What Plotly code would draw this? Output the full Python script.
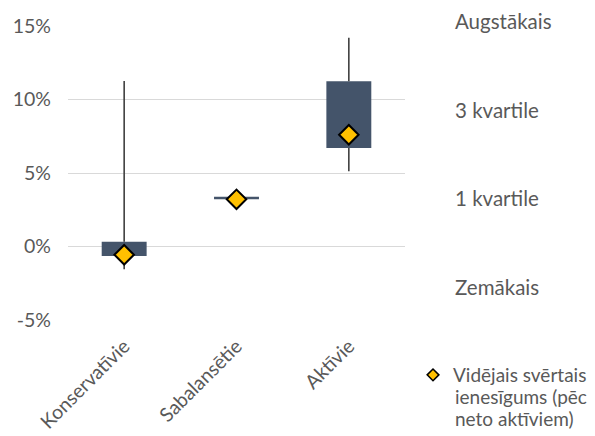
import plotly.graph_objects as go

# Fund groups and their return distribution (percent)
categories = ["Konservatīvie", "Sabalansētie", "Aktīvie"]
lowest = [-1.55, 3.20, 5.12]
quartile1 = [-0.65, 3.21, 6.70]
quartile3 = [0.33, 3.39, 11.24]
highest = [11.26, 3.40, 14.20]
weighted_mean = [-0.56, 3.21, 7.60]

# Axis ticks
y_ticks = [-5, 0, 5, 10, 15]
y_tick_text = ["-5%", "0%", "5%", "10%", "15%"]

# Side labels for the series
side_labels = ["Augstākais", "3 kvartile", "1 kvartile", "Zemākais"]
mean_label_lines = ["Vidējais svērtais", "ienesīgums (pēc", "neto aktīviem)"]

FONT = "Lato"
TEXT = "#595959"
BOX = "#44546A"
WHISKER = "#404040"
GOLD = "#FFC000"

L, R, T, B = 68, 405, 26, 320  # plot area edges in pixels


def px_x(x):
    return (x - L) / (R - L)


def px_y(y):
    return 1 - (y - T) / (B - T)


fig = go.Figure()

# Whiskers: lowest -> 1st quartile and 3rd quartile -> highest
wx, wy = [], []
for c, lo, q1, q3, hi in zip(categories, lowest, quartile1, quartile3, highest):
    wx += [c, c, None, c, c, None]
    wy += [lo, q1, None, q3, hi, None]
fig.add_trace(go.Scatter(
    x=wx, y=wy, mode="lines", line=dict(color=WHISKER, width=1.6),
    showlegend=False, hoverinfo="skip",
))

# Interquartile boxes
fig.add_trace(go.Bar(
    x=categories,
    y=[q3 - q1 for q1, q3 in zip(quartile1, quartile3)],
    base=quartile1,
    width=0.4,
    marker=dict(color=BOX, line=dict(width=0)),
    showlegend=False,
))

# Weighted mean return
fig.add_trace(go.Scatter(
    x=categories, y=weighted_mean, mode="markers",
    marker=dict(symbol="diamond", size=15, color=GOLD,
                line=dict(color="black", width=2)),
    showlegend=False,
))
# Legend entry for the mean marker (first line of its label)
fig.add_trace(go.Scatter(
    x=[None], y=[None], mode="markers", name=mean_label_lines[0],
    marker=dict(symbol="diamond", size=9, color=GOLD,
                line=dict(color="black", width=1.5)),
))

label_y = [21, 110, 198, 287]
for txt, py in zip(side_labels, label_y):
    fig.add_annotation(
        text=txt, xref="paper", yref="paper",
        x=px_x(453), y=px_y(py),
        xanchor="left", yanchor="middle", showarrow=False,
        font=dict(family=FONT, size=20.5, color=TEXT),
    )

# Remaining lines of the legend label, with tighter line spacing
for txt, py in zip(mean_label_lines[1:], [396, 418]):
    fig.add_annotation(
        text=txt, xref="paper", yref="paper",
        x=px_x(453), y=px_y(py),
        xanchor="left", yanchor="middle", showarrow=False,
        font=dict(family=FONT, size=19, color=TEXT),
    )

fig.update_layout(
    width=595, height=436,
    margin=dict(l=L, r=595 - R, t=T, b=436 - B, autoexpand=False),
    paper_bgcolor="white", plot_bgcolor="white",
    font=dict(family=FONT, size=19, color=TEXT),
    legend=dict(
        x=px_x(413), y=px_y(356),
        xanchor="left", yanchor="top", valign="middle",
        font=dict(family=FONT, size=19, color=TEXT),
        bgcolor="rgba(0,0,0,0)", borderwidth=0,
    ),
)
fig.update_yaxes(
    range=[-5, 15], tickvals=y_ticks, ticktext=y_tick_text,
    showgrid=True, gridcolor="#D9D9D9", gridwidth=1.3,
    zeroline=False, showline=False, ticks="", ticklabelstandoff=16,
    automargin=False,
    tickfont=dict(family=FONT, size=19.5, color=TEXT),
)
fig.update_xaxes(
    range=[-0.5, 2.5], tickangle=-45, showgrid=False, zeroline=False,
    showline=False, ticks="", ticklabelstandoff=10, automargin=False,
    tickfont=dict(family=FONT, size=19.5, color=TEXT),
)

fig.write_html("out.html")
